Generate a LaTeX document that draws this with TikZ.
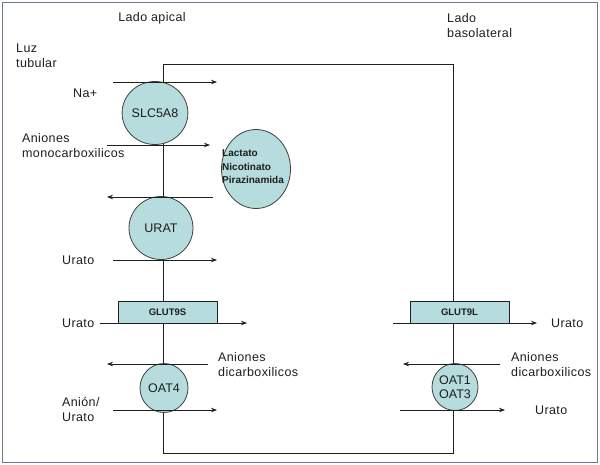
\documentclass[tikz,border=0pt]{standalone}
\usepackage{fontspec}
\setmainfont{Liberation Sans}
\usetikzlibrary{arrows.meta,shapes.geometric}
\definecolor{memb}{RGB}{182,220,221}
\definecolor{framec}{RGB}{105,120,140}
\definecolor{ink}{RGB}{30,30,30}
\begin{document}
\begin{tikzpicture}[x=1pt,y=-1pt,
 lbl/.style={font=\fontsize{12.5}{15}\selectfont\addfontfeature{LetterSpace=3}, inner sep=0pt, align=left, text=ink},
 prot/.style={ellipse, draw=ink!85, fill=memb, line width=0.8pt, inner sep=0pt, text=ink, font=\fontsize{12.5}{14}\selectfont},
 flow/.style={draw=ink, line width=0.8pt, -{Stealth[length=6pt,width=4.5pt]}},
 boxp/.style={draw=ink, fill=memb, line width=0.8pt, minimum width=99pt, minimum height=22pt, inner sep=0pt, text=ink, font=\bfseries\fontsize{9.5}{10}\selectfont}]
\useasboundingbox (0,0) rectangle (600,465);
\fill[white] (0,0) rectangle (600,465);
\draw[framec, line width=1.5pt] (2.5,2.5) rectangle (597.5,462.5);
% cell
\draw[ink, line width=0.9pt] (163.5,64) rectangle (453,453);
% proteins
\node[prot, minimum width=62pt, minimum height=63pt] (slc) at (155,113) {SLC5A8};
\node[prot, minimum width=69pt, minimum height=79pt] (lac) at (256,169) {};
\node[anchor=west, inner sep=0pt, align=left, text=ink, font=\bfseries\fontsize{10}{13.5}\selectfont] (lactxt) at (222,167) {Lactato\\Nicotinato\\Pirazinamida};
\node[prot, minimum width=64pt, minimum height=63pt] (urat) at (161,228) {URAT};
\node[boxp] (g9s) at (167.5,312) {GLUT9S};
\node[prot, minimum width=48pt, minimum height=49pt] (oat4) at (164,388) {OAT4};
\node[boxp] (g9l) at (459.5,312) {GLUT9L};
\node[prot, minimum width=46pt, minimum height=47pt, align=center, font=\fontsize{12.5}{14}\selectfont] (oat13) at (455,387) {OAT1\\OAT3};
% arrow ends
\coordinate (a1s) at (113,82);  \coordinate (a1e) at (217,82);
\coordinate (a2s) at (107,145); \coordinate (a2e) at (210,145);
\coordinate (a3s) at (213,197); \coordinate (a3e) at (107,197);
\coordinate (a4s) at (113,260); \coordinate (a4e) at (217,260);
\coordinate (a5s) at (100,323); \coordinate (a5e) at (247,323);
\coordinate (a6s) at (208,364); \coordinate (a6e) at (107,364);
\coordinate (a7s) at (113,410); \coordinate (a7e) at (217,410);
\coordinate (b1s) at (393,323); \coordinate (b1e) at (537,323);
\coordinate (b2s) at (500,364); \coordinate (b2e) at (403,364);
\coordinate (b3s) at (400,410); \coordinate (b3e) at (505,410);
\foreach \s/\e in {a1s/a1e,a2s/a2e,a3s/a3e,a4s/a4e,a5s/a5e,a6s/a6e,a7s/a7e,b1s/b1e,b2s/b2e,b3s/b3e}
  \draw[flow] (\s) -- (\e);
% labels
\node[lbl] (tapical) at (152,18) {Lado apical};
\node[lbl, anchor=west] (tluz) at (16,55.5) {Luz\\tubular};
\node[lbl, anchor=west] (tbaso) at (447,25.5) {Lado\\basolateral};
\node[lbl, anchor=west] (lna) at (73,93) {Na+};
\node[lbl, anchor=west] (lmono) at (22,145.5) {Aniones\\monocarboxilicos};
\node[lbl, anchor=west] (lur1) at (62,260) {Urato};
\node[lbl, anchor=west] (lur2) at (62,323) {Urato};
\node[lbl, anchor=west] (ldic1) at (218,365) {Aniones\\dicarboxilicos};
\node[lbl, anchor=west] (lanion) at (62,409.5) {Anión/\\Urato};
\node[lbl, anchor=west] (lur3) at (551,323) {Urato};
\node[lbl, anchor=west] (ldic2) at (511,364.5) {Aniones\\dicarboxilicos};
\node[lbl, anchor=west] (lur4) at (535,410) {Urato};
\end{tikzpicture}
\end{document}
